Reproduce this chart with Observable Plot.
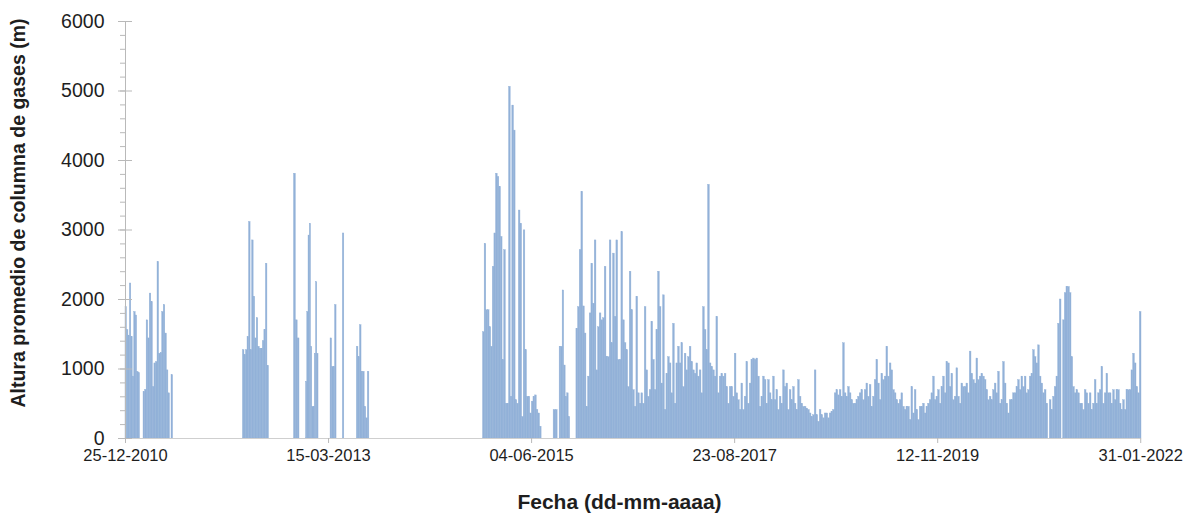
<!DOCTYPE html>
<html>
<head>
<meta charset="utf-8">
<script src="https://cdn.jsdelivr.net/npm/d3@7"></script>
<script src="https://cdn.jsdelivr.net/npm/@observablehq/plot@0.6"></script>
<style>
  html, body { margin: 0; padding: 0; background: #fff; }
  #chart svg { display: block; }
</style>
</head>
<body>
<div id="chart"></div>
<script>
// ---- Data (metres) ----
const v2011a = [1890, 1560, 1480, 2230, 1460, 890, 1820, 1770, 960, 940];
const v2011b = [670, 700, 1700, 1440, 2085, 1960, 740, 1080, 1100, 2540, 1220, 1230, 1820, 1920, 1510, 980, 650, 0, 910];
const v2012a = [1270, 1200, 1270, 1460, 3115, 1270, 2850, 2040, 1440, 1730, 1320, 1290, 1290, 1400, 1560, 2515, 1045];
const v2012b = [3810, 1700, 1440];
const v2012c = [815, 1820, 2920, 3090, 1320, 455, 455, 1220, 2250, 1220];
const v2013a = [1440, 1030, 1030, 1920];
const v2013b = [2950];
const v2013c = [1320, 1170, 1630, 960, 960, 455, 290, 960];
const v2015a = [1530, 2800, 1845, 1845, 1600, 1320, 2470, 2950, 3810, 3760, 3620, 2900, 1130, 2710, 500, 500, 5060, 600,
                4790, 4430, 550, 500, 3280, 3090, 310, 2995, 1270, 600, 600, 360, 530, 600, 620, 410, 360, 170];
const v2015b = [410, 410];
const v2015c = [1320, 1320, 2130, 1050, 600, 650, 310];
const v2015_17 = [1580, 1890,
  2710, 3550, 1900, 1510, 455, 890, 1800, 2515, 1940, 2850,
  980, 1600, 1800, 1700, 1730, 2470, 1170, 1170, 2850, 1370,
  2660, 1750, 2850, 1130, 1130, 2970, 1700, 1370, 1270, 740,
  2400, 1845, 695, 455, 2040, 650, 500, 650, 500, 1890,
  980, 600, 695, 1680, 1130, 695, 1560, 2400, 1890, 790,
  2060, 410, 930, 1170, 1080, 650, 1650, 500, 1080, 1320,
  1080, 1370, 740, 1220, 980, 1170, 1320, 1100, 980, 930,
  1080, 890, 980, 650, 1890, 1560, 1270, 3650, 1080, 1030,
  980, 890, 1750, 650, 890, 930, 890, 930, 740, 500];
const v2017_19 = [
  740, 740, 600, 1220, 650, 550, 410, 790, 410, 600,
  1100, 500, 790, 1130, 1150, 1130, 1150, 890, 455, 600,
  890, 840, 500, 840, 650, 550, 890, 550, 695, 410,
  600, 500, 980, 740, 790, 410, 695, 550, 740, 500,
  410, 840, 600, 500, 455, 455, 430, 410, 360, 310,
  335, 980, 335, 240, 410, 335, 290, 360, 360, 290,
  360, 385, 410, 650, 695, 620, 695, 600, 1370, 650,
  600, 740, 650, 550, 500, 500, 550, 600, 650, 695,
  550, 695, 790, 600];
const v2019_20 = [
  770, 455, 600, 840, 1130, 790, 550, 930, 840, 890,
  1320, 890, 1080, 980, 695, 650, 550, 500, 550, 650,
  455, 410, 455, 455, 265, 740, 360, 695, 410, 265,
  455, 455, 500, 360, 455, 500, 550, 650, 890, 550,
  600, 695, 500, 740, 890, 650, 1100, 1080, 740, 930,
  550, 600, 1010, 600, 500, 790, 740, 740, 790, 650,
  1250, 930, 840, 790, 1150, 840, 890, 930, 890, 840,
  695, 550, 600, 550, 695, 790, 650, 960, 500, 550,
  1100, 790, 500, 360];
const v2020_22 = [
  550, 550, 650, 650, 740, 840, 695, 890, 740, 890,
  650, 695, 890, 930, 1270, 1170, 1080, 1340, 890, 790,
  650, 695, 500, 0, 550, 410, 600, 740, 890, 1650,
  2000, 0, 1700, 2090, 2180, 2180, 2090, 1170, 740, 650,
  695, 650, 500, 500, 410, 695, 650, 500, 650, 410,
  500, 840, 500, 650, 695, 1030, 500, 650, 930, 650,
  650, 500, 695, 550, 695, 695, 500, 410, 550, 410,
  695, 695, 695, 980, 1220, 1080, 740, 650, 1820];

// observation periods (values evenly spread over each period)
const periodStart = ["2010-12-25", "2011-03-07", "2012-04-07", "2012-10-28", "2012-12-15", "2013-03-23", "2013-05-11",
                     "2013-07-06", "2014-11-22", "2015-08-31", "2015-09-24", "2015-11-30"];
const periodEnd   = ["2011-02-21", "2011-07-03", "2012-07-20", "2012-11-19", "2013-02-03", "2013-04-16", "2013-05-17",
                     "2013-08-25", "2015-07-14", "2015-09-16", "2015-11-05", "2022-02-03"];
const periodValues = [v2011a, v2011b, v2012a, v2012b, v2012c, v2013a, v2013b, v2013c, v2015a, v2015b, v2015c,
                      [...v2015_17, ...v2017_19, ...v2019_20, ...v2020_22]];

const xTicks = ["2010-12-25", "2013-03-15", "2015-06-04", "2017-08-23", "2019-11-12", "2022-01-31"];
const yTicks = [0, 1000, 2000, 3000, 4000, 5000, 6000];
const yMinorTicks = d3.range(0, 6001, 200);
const xTitle = "Fecha (dd-mm-aaaa)";
const yTitle = "Altura promedio de columna de gases (m)";

// ---- Build table ----
const data = periodValues.flatMap((vals, k) => {
  const t0 = +new Date(periodStart[k]), t1 = +new Date(periodEnd[k]);
  const w = (t1 - t0) / vals.length;
  return vals.map((v, i) => ({x1: new Date(t0 + i * w), x2: new Date(t0 + (i + 1) * w), v}));
});

const fmt = d3.utcFormat("%d-%m-%Y");
const barColor = "#92b1d8";
const axisGray = "#b9b9b9";
const textColor = "#1e1e1e";

const chart = Plot.plot({
  width: 1185,
  height: 518,
  marginLeft: 125,
  marginRight: 44,
  marginTop: 21,
  marginBottom: 80,
  style: {fontFamily: "'Liberation Sans', Arial, sans-serif", color: textColor, background: "#fff"},
  x: {type: "utc", domain: [new Date("2010-12-25"), new Date("2022-02-03")]},
  y: {domain: [0, 6000]},
  marks: [
    Plot.rectY(data, {x1: "x1", x2: "x2", y: "v", fill: barColor, stroke: barColor, strokeWidth: 0.4, inset: 0}),
    Plot.ruleY([0], {stroke: "#cfcfcf", strokeWidth: 1.2}),
    Plot.frame({anchor: "left", stroke: axisGray}),
    // y minor ticks
    Plot.axisY({ticks: yMinorTicks, tickSize: 5, tickFormat: () => "", stroke: axisGray, label: null}),
    // y major ticks (crossing the axis)
    Plot.axisY({ticks: yTicks, tickSize: 14, dx: 7, tickFormat: () => "", stroke: axisGray, label: null}),
    // y labels
    Plot.axisY({ticks: yTicks, tickSize: 0, tickPadding: 21, tickFormat: d3.format("d"), fontSize: 19.5, fill: textColor, label: null}),
    // x ticks & labels
    Plot.axisX({ticks: xTicks.map(d => new Date(d)), tickSize: 5, tickFormat: () => "", stroke: axisGray, label: null}),
    Plot.axisX({ticks: xTicks.map(d => new Date(d)), tickSize: 0, tickPadding: 11, tickFormat: fmt, fontSize: 16.5, fill: textColor, label: null}),
    // titles
    Plot.text([xTitle], {frameAnchor: "bottom", dx: -14, dy: 70, fontSize: 21, fontWeight: "bold", fill: textColor, textAnchor: "middle"}),
    Plot.text([yTitle], {frameAnchor: "left", dx: -107, dy: -17, rotate: -90, fontSize: 19.5, fontWeight: "bold", fill: textColor, textAnchor: "middle"})
  ]
});
document.getElementById("chart").appendChild(chart);
</script>
</body>
</html>
